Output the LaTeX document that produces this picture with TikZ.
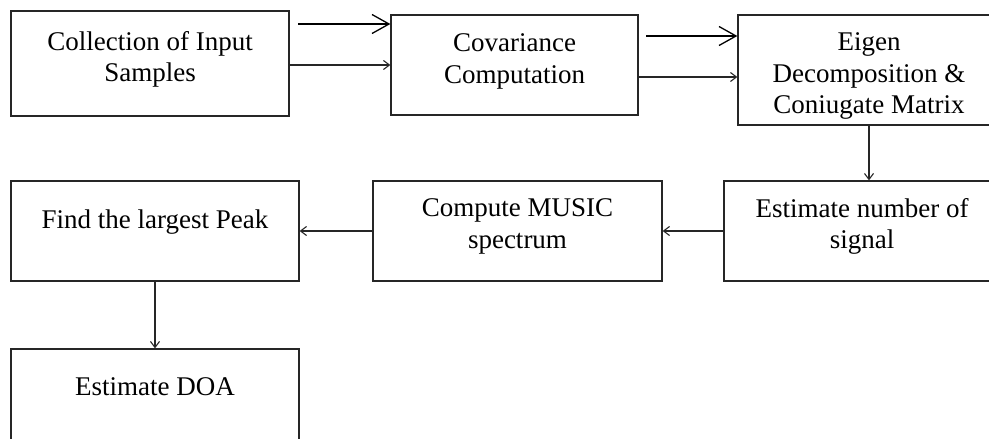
\documentclass[tikz,border=0pt]{standalone}
\usepackage{fontspec}
\setmainfont{Liberation Serif}
\usetikzlibrary{arrows.meta,positioning}
\tikzset{
  blk/.style={draw=black!85,line width=1.3pt,fill=white,inner sep=0pt},
  lbl/.style={anchor=center,align=center,inner sep=0pt,
              font=\fontsize{27}{31.5}\selectfont},
  flow/.style={-{Straight Barb[length=6pt,width=9pt]},draw=black!85,line width=1.1pt},
  bigflow/.style={-{Straight Barb[length=17pt,width=19pt]},draw=black,line width=1.3pt},
}

\begin{document}
\begin{tikzpicture}[x=1pt,y=-1pt]
  \useasboundingbox (0,0) rectangle (989,439);
  \clip (0,0) rectangle (989,439);
  % top row
  \node[blk,minimum width=278pt,minimum height=105pt,
    label={[lbl,yshift=-49pt]north:{Collection of Input\\Samples}}] (coll) at (150,63.5) {};
  \node[blk,minimum width=247pt,minimum height=100pt,
    label={[lbl,yshift=-47pt]north:{Covariance\\Computation}}] (cov) at (514.5,65) {};
  \node[blk,minimum width=262pt,minimum height=110pt,
    label={[lbl,yshift=-62pt]north:{Eigen\\Decomposition \&\\Coniugate Matrix}}] (eig) at (869,70) {};
  % middle row
  \node[blk,minimum width=288pt,minimum height=100pt,
    label={[lbl,yshift=-42pt]north:{Find the largest Peak}}] (find) at (155,231) {};
  \node[blk,minimum width=289pt,minimum height=100pt,
    label={[lbl,yshift=-46pt]north:{Compute MUSIC\\spectrum}}] (mus) at (517.5,231) {};
  \node[blk,minimum width=276pt,minimum height=100pt,
    label={[lbl,yshift=-46pt]north:{Estimate number of\\signal}}] (est) at (862,231) {};
  % bottom
  \node[blk,minimum width=288pt,minimum height=106pt,
    label={[lbl,yshift=-38pt]north:{Estimate DOA}}] (doa) at (155,402) {};
  % arrows
  \coordinate (a1) at (298,24);
  \coordinate (a3) at (646,36);
  \coordinate (a4) at (638,77);
  \draw[bigflow] (a1) -- (a1 -| cov.west);
  \draw[flow] (coll.east |- cov.west) -- (cov.west);
  \draw[bigflow] (a3) -- (a3 -| eig.west);
  \draw[flow] (a4) -- (a4 -| eig.west);
  \draw[flow] (eig.south) -- (est.north -| eig.south);
  \draw[flow] (est) -- (mus);
  \draw[flow] (mus) -- (find);
  \draw[flow] (find) -- (doa);
\end{tikzpicture}
\end{document}
